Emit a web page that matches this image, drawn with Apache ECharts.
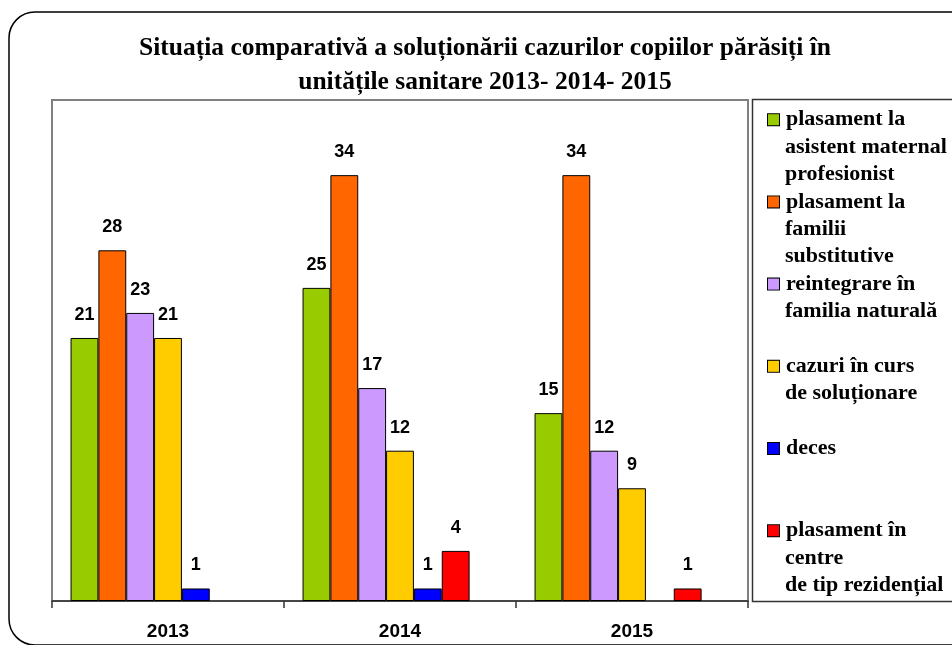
<!DOCTYPE html>
<html>
<head>
<meta charset="utf-8">
<script src="https://cdn.jsdelivr.net/npm/echarts@6/dist/echarts.min.js"></script>
<style>
  html, body { margin: 0; padding: 0; background: #fff; }
  #chart { width: 952px; height: 645px; }
</style>
</head>
<body>
<div id="chart"></div>
<script>
var years = ['2013', '2014', '2015'];
var seriesNames = [
  'plasament la asistent maternal profesionist',
  'plasament la familii substitutive',
  'reintegrare în familia naturală',
  'cazuri în curs de soluționare',
  'deces',
  'plasament în centre de tip rezidențial'
];
// legend text, split on lines like in the picture
var legendLines = [
  ['plasament la', 'asistent maternal', 'profesionist'],
  ['plasament la', 'familii', 'substitutive'],
  ['reintegrare în', 'familia naturală', ''],
  ['cazuri în curs', 'de soluționare', ''],
  ['deces', '', ''],
  ['plasament în', 'centre', 'de tip rezidențial']
];
var colors = ['#99CC00', '#FF6600', '#CC99FF', '#FFCC00', '#0000FF', '#FF0000'];
// values per series, for 2013, 2014, 2015 (null = no bar)
var asistentMaternal = [21, 25, 15];
var familiiSubstitutive = [28, 34, 34];
var reintegrare = [23, 17, 12];
var cazuriInCurs = [21, 12, 9];
var deces = [1, 1, null];
var centreRezidentiale = [null, 4, 1];
var seriesValues = [asistentMaternal, familiiSubstitutive, reintegrare, cazuriInCurs, deces, centreRezidentiale];

var chart = echarts.init(document.getElementById('chart'));

var rich = {
  sp: { width: 10, lineHeight: 27.4 },
  t: { padding: [0, 0, 0, 7], fontFamily: 'Liberation Serif', fontWeight: 'bold', fontSize: 22, color: '#000', lineHeight: 27.4 }
};
colors.forEach(function (c, i) {
  rich['b' + i] = { width: 11, height: 11, backgroundColor: c, borderColor: '#000', borderWidth: 1, lineHeight: 27.4 };
});

var series = seriesNames.map(function (name, i) {
  return {
    name: name,
    type: 'bar',
    barGap: 0,
    barCategoryGap: '16%',
    data: seriesValues[i],
    itemStyle: { color: colors[i], borderColor: '#000', borderWidth: 1 },
    label: {
      show: true,
      position: 'top',
      distance: 14,
      color: '#000',
      fontFamily: 'Liberation Sans',
      fontWeight: 'bold',
      fontSize: 18
    }
  };
});
// empty slot on the right of each group, as in the original layout
series.push({ name: 'gol', type: 'bar', barGap: 0, barCategoryGap: '16%', data: [null, null, null], silent: true });

var option = {
  backgroundColor: '#fff',
  animation: false,
  title: {
    text: 'Situația comparativă a soluționării cazurilor copiilor părăsiți în\nunitățile sanitare 2013- 2014- 2015',
    left: 485,
    top: 31,
    padding: 0,
    textAlign: 'center',
    textStyle: {
      fontFamily: 'Liberation Serif',
      fontWeight: 'bold',
      fontSize: 25.5,
      lineHeight: 34,
      color: '#000'
    }
  },
  grid: {
    left: 52,
    right: 204,
    top: 100,
    bottom: 44,
    show: true,
    borderColor: '#808080',
    borderWidth: 2,
    backgroundColor: 'transparent'
  },
  legend: {
    orient: 'vertical',
    left: 757,
    top: 101,
    itemGap: 0,
    icon: 'none',
    itemWidth: 1,
    itemHeight: 1,
    selectedMode: false,
    data: seriesNames,
    formatter: function (name) {
      var i = seriesNames.indexOf(name);
      var l = legendLines[i];
      return '{b' + i + '|}{t|' + l[0] + '}\n{sp|}' + (l[1] ? '{t|' + l[1] + '}' : '') +
        '\n{sp|}' + (l[2] ? '{t|' + l[2] + '}' : '');
    },
    textStyle: {
      fontFamily: 'Liberation Serif',
      fontWeight: 'bold',
      fontSize: 22,
      lineHeight: 27.4,
      color: '#000',
      rich: rich
    }
  },
  xAxis: {
    type: 'category',
    data: years,
    axisLine: { lineStyle: { color: '#333', width: 1.5 } },
    axisTick: { show: true, length: 7, lineStyle: { color: '#333', width: 1.5 } },
    axisLabel: {
      margin: 21,
      color: '#000',
      fontFamily: 'Liberation Sans',
      fontWeight: 'bold',
      fontSize: 19
    }
  },
  yAxis: {
    type: 'value',
    min: 0,
    max: 40,
    axisLine: { show: false },
    axisTick: { show: false },
    axisLabel: { show: false },
    splitLine: { show: false }
  },
  graphic: [
    {
      type: 'rect',
      shape: { x: 9, y: 12, width: 1000, height: 633, r: 26 },
      style: { fill: 'none', stroke: '#000', lineWidth: 1.5 },
      silent: true
    },
    {
      type: 'rect',
      shape: { x: 752.5, y: 99.5, width: 230, height: 502 },
      style: { fill: 'none', stroke: '#333', lineWidth: 1.5 },
      silent: true
    }
  ],
  series: series
};
chart.setOption(option);
</script>
</body>
</html>
